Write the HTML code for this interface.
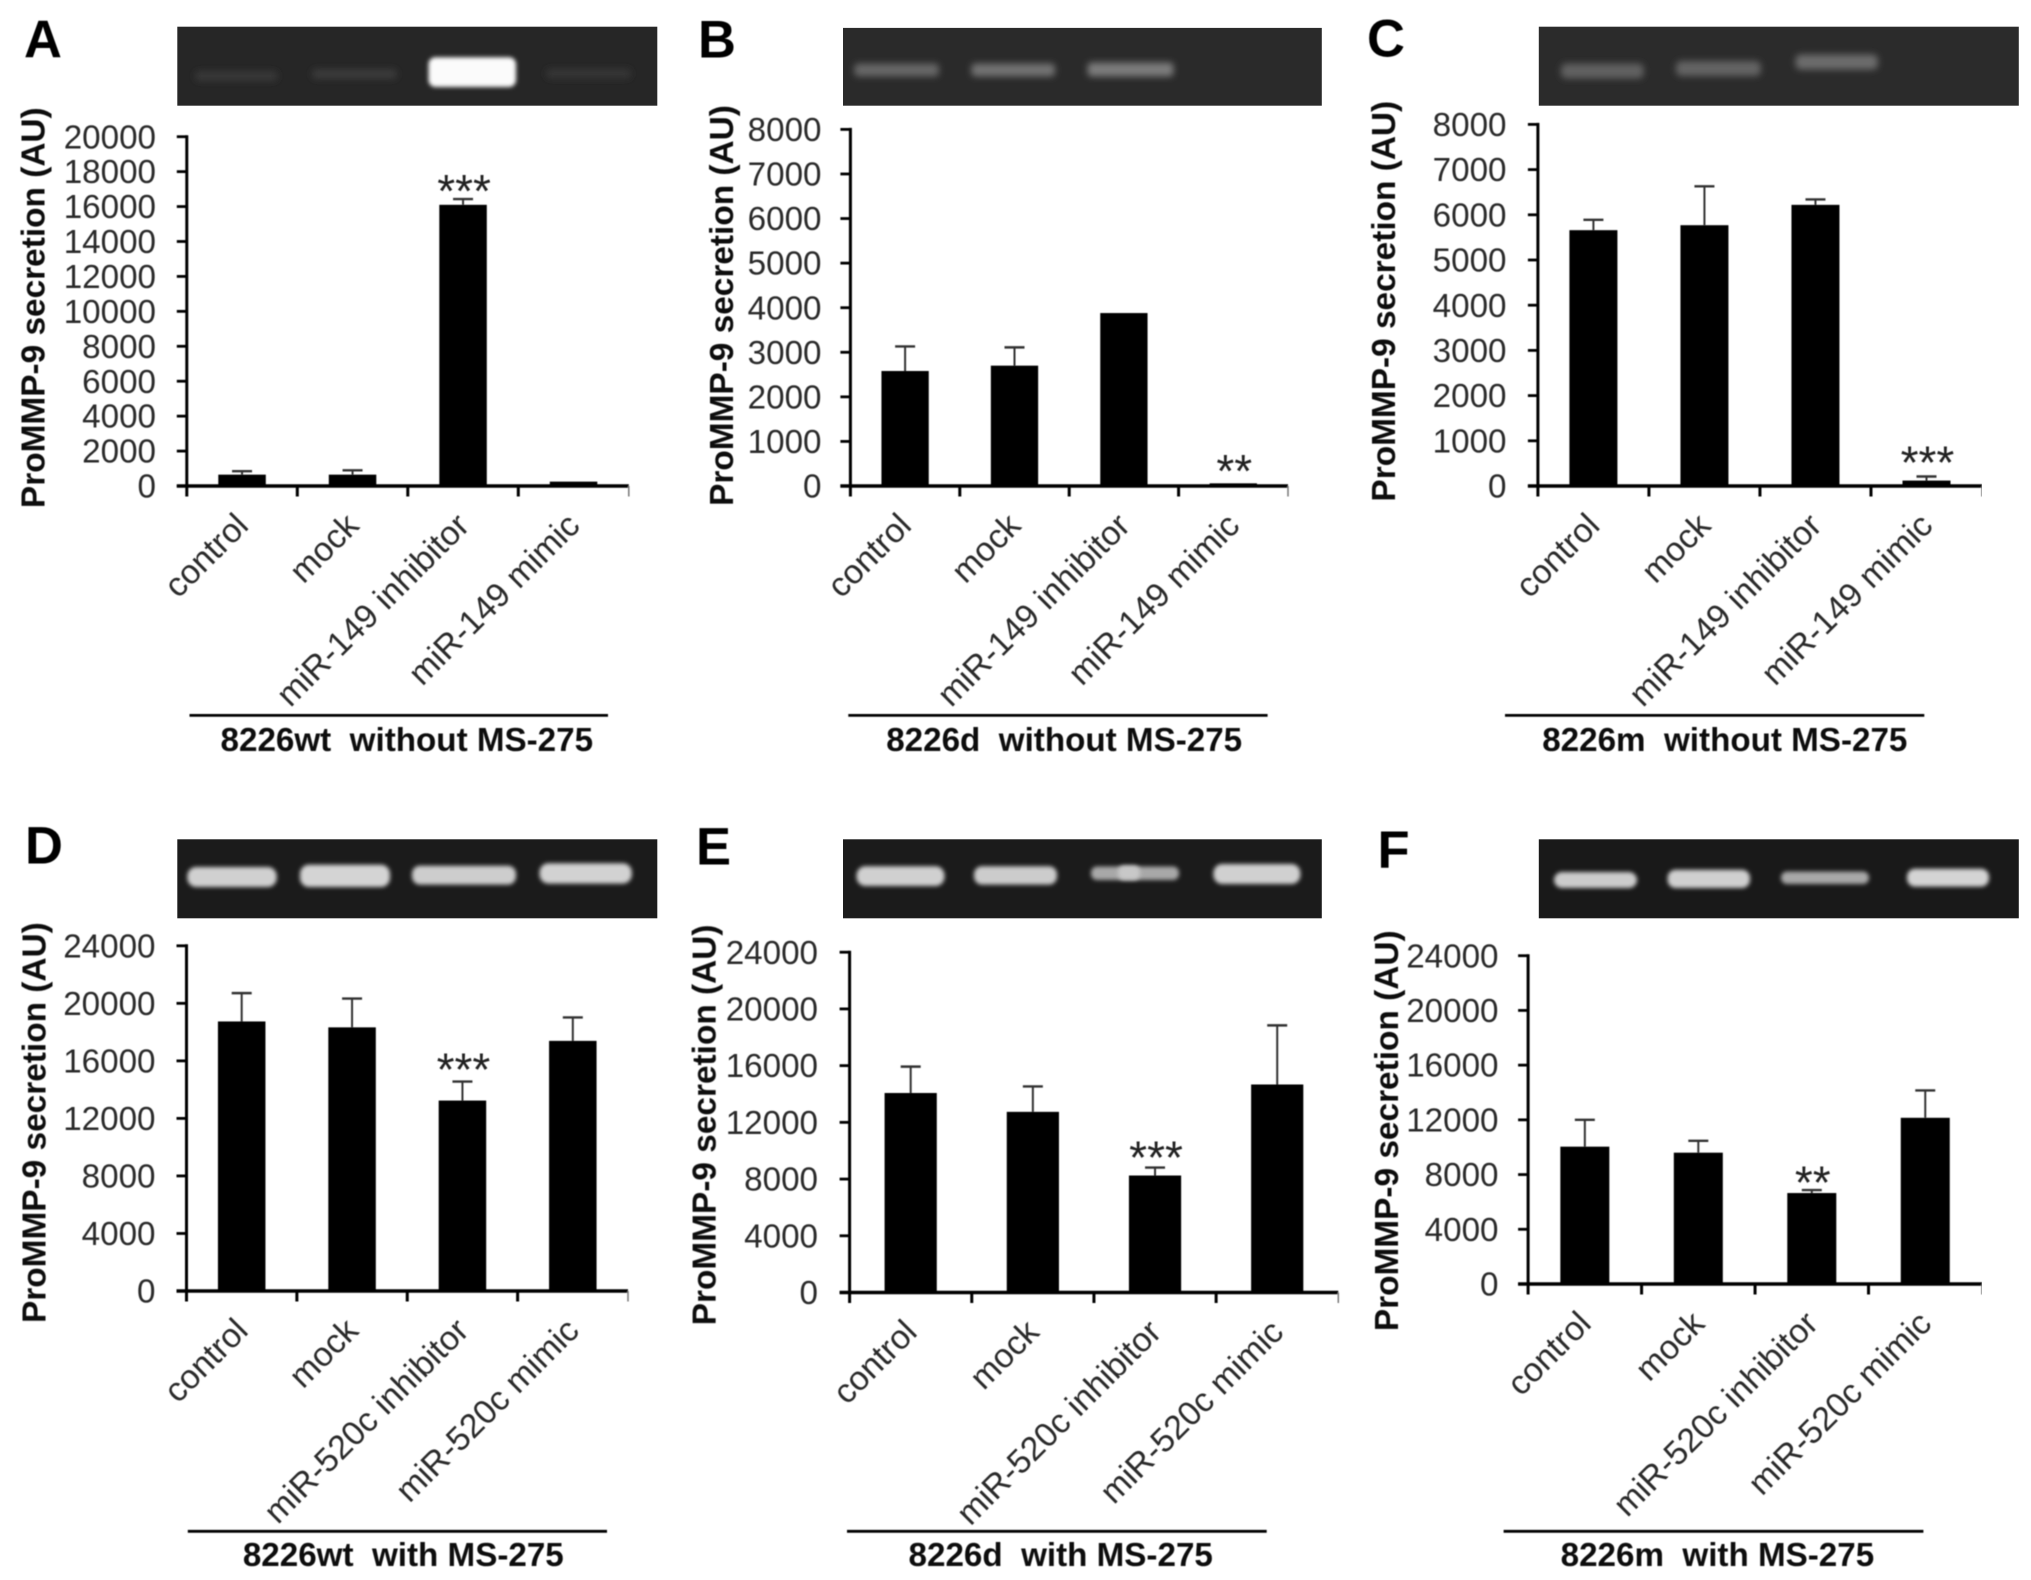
<!DOCTYPE html>
<html lang="en">
<head>
<meta charset="utf-8">
<title>ProMMP-9 secretion panels</title>
<style>
html,body{margin:0;padding:0;background:#fff;width:2031px;height:1580px;overflow:hidden}
svg{display:block;font-family:"Liberation Sans",sans-serif}
.letter{font-size:52.5px;font-weight:700;fill:#000}
.ytitle{font-size:33.4px;font-weight:700;fill:#111;text-anchor:middle}
.caption{font-size:33.2px;font-weight:700;fill:#111;text-anchor:middle;white-space:pre}
.tick{font-size:33.2px;fill:#2a2a2a;text-anchor:end}
.xlabel{font-size:33.8px;fill:#2a2a2a;text-anchor:end}
.stars{font-size:46px;fill:#222;text-anchor:middle}
</style>
</head>
<body>
<svg id="figure" xmlns="http://www.w3.org/2000/svg" width="2031" height="1580" viewBox="0 0 2031 1580">
<defs>
<filter id="bandSoft" x="-20%" y="-60%" width="140%" height="220%"><feGaussianBlur stdDeviation="2.2"/></filter>
<filter id="bandFaint" x="-20%" y="-80%" width="140%" height="260%"><feGaussianBlur stdDeviation="3.4"/></filter>
<filter id="soften" x="0" y="0" width="100%" height="100%"><feGaussianBlur stdDeviation="0.65"/></filter>
</defs>
<rect width="2031" height="1580" fill="#fff"/>

<g>
<rect x="177.3" y="26.7" width="480" height="79" fill="#262626"/>
<rect x="195" y="71" width="82.5" height="10" rx="4" fill="#383838" filter="url(#bandFaint)"/>
<rect x="312" y="69" width="85" height="10" rx="4" fill="#3a3a3a" filter="url(#bandFaint)"/>
<rect x="428.5" y="57.2" width="87.5" height="29.8" rx="7" fill="#fbfbfb" filter="url(#bandSoft)"/>
<rect x="546" y="68.6" width="85" height="10" rx="4" fill="#353535" filter="url(#bandFaint)"/>
</g>
<g>
<rect x="843" y="27.9" width="478.8" height="77.8" fill="#2a2a2a"/>
<rect x="854.3" y="63.5" width="84.6" height="13" rx="4" fill="#666666" filter="url(#bandFaint)"/>
<rect x="971.4" y="63.5" width="83.6" height="13" rx="4" fill="#727272" filter="url(#bandFaint)"/>
<rect x="1087.6" y="62.5" width="85.9" height="14" rx="4" fill="#7c7c7c" filter="url(#bandFaint)"/>
</g>
<g>
<rect x="1538.8" y="26.7" width="480" height="79" fill="#2b2b2b"/>
<rect x="1561" y="63.5" width="82.7" height="15" rx="5" fill="#606060" filter="url(#bandFaint)"/>
<rect x="1676" y="61" width="84.8" height="15" rx="5" fill="#646464" filter="url(#bandFaint)"/>
<rect x="1795.5" y="54.5" width="82.4" height="15" rx="5" fill="#6c6c6c" filter="url(#bandFaint)"/>
</g>
<g>
<rect x="177.3" y="839.3" width="480" height="79" fill="#1b1b1b"/>
<rect x="187.3" y="867" width="89.4" height="20" rx="9" fill="#d0d0d0" filter="url(#bandSoft)"/>
<rect x="300" y="864.7" width="90" height="22.3" rx="9" fill="#d4d4d4" filter="url(#bandSoft)"/>
<rect x="412" y="865.7" width="104" height="18.9" rx="8" fill="#cdcdcd" filter="url(#bandSoft)"/>
<rect x="539.5" y="863.2" width="92.3" height="20.4" rx="9" fill="#d2d2d2" filter="url(#bandSoft)"/>
</g>
<g>
<rect x="843" y="839.3" width="478.8" height="79" fill="#1b1b1b"/>
<rect x="856.5" y="866.2" width="88" height="19.8" rx="9" fill="#d0d0d0" filter="url(#bandSoft)"/>
<rect x="974" y="866.2" width="83" height="18.4" rx="8" fill="#cccccc" filter="url(#bandSoft)"/>
<rect x="1091" y="866.5" width="88" height="13.5" rx="6" fill="#a8a8a8" filter="url(#bandSoft)"/>
<rect x="1118" y="865.5" width="22" height="14.5" rx="6" fill="#c8c8c8" filter="url(#bandSoft)"/>
<rect x="1213.4" y="864" width="87" height="20" rx="9" fill="#d0d0d0" filter="url(#bandSoft)"/>
</g>
<g>
<rect x="1538.8" y="839.3" width="480" height="79" fill="#191919"/>
<rect x="1554" y="872" width="83" height="16" rx="8" fill="#cccccc" filter="url(#bandSoft)"/>
<rect x="1667.6" y="869.7" width="82.4" height="18.3" rx="8" fill="#d0d0d0" filter="url(#bandSoft)"/>
<rect x="1781" y="871.5" width="88" height="12.5" rx="6" fill="#a8a8a8" filter="url(#bandSoft)"/>
<rect x="1907" y="868.7" width="82" height="17.9" rx="8" fill="#d4d4d4" filter="url(#bandSoft)"/>
</g>

<g id="art" filter="url(#soften)">
<text class="letter" x="24" y="57.3">A</text>
<text class="letter" x="698" y="57.3">B</text>
<text class="letter" x="1367" y="56.3">C</text>
<text class="letter" x="25" y="863.7">D</text>
<text class="letter" x="696" y="864.7">E</text>
<text class="letter" x="1377.5" y="868.2">F</text>

<text class="ytitle" transform="translate(44.7,307.7) rotate(-90)">ProMMP-9 secretion (AU)</text>
<text class="ytitle" transform="translate(732.9,305.5) rotate(-90)">ProMMP-9 secretion (AU)</text>
<text class="ytitle" transform="translate(1395.2,301.2) rotate(-90)">ProMMP-9 secretion (AU)</text>
<text class="ytitle" transform="translate(45.5,1122.6) rotate(-90)">ProMMP-9 secretion (AU)</text>
<text class="ytitle" transform="translate(715.6,1124.9) rotate(-90)">ProMMP-9 secretion (AU)</text>
<text class="ytitle" transform="translate(1397.8,1130.8) rotate(-90)">ProMMP-9 secretion (AU)</text>

<line x1="189.5" x2="608" y1="715.4" y2="715.4" stroke="#000" stroke-width="2.8"/>
<line x1="848.3" x2="1267.6" y1="715.4" y2="715.4" stroke="#000" stroke-width="2.8"/>
<line x1="1505" x2="1924.3" y1="715.4" y2="715.4" stroke="#000" stroke-width="2.8"/>
<line x1="187.8" x2="607" y1="1531.3" y2="1531.3" stroke="#000" stroke-width="2.8"/>
<line x1="847" x2="1266.7" y1="1531.3" y2="1531.3" stroke="#000" stroke-width="2.8"/>
<line x1="1503.6" x2="1923.4" y1="1531.3" y2="1531.3" stroke="#000" stroke-width="2.8"/>

<text class="caption" xml:space="preserve" x="406.8" y="751.2">8226wt  without MS-275</text>
<text class="caption" xml:space="preserve" x="1064.2" y="751.2">8226d  without MS-275</text>
<text class="caption" xml:space="preserve" x="1724.8" y="751.2">8226m  without MS-275</text>
<text class="caption" xml:space="preserve" x="403.3" y="1566">8226wt  with MS-275</text>
<text class="caption" xml:space="preserve" x="1060.7" y="1566">8226d  with MS-275</text>
<text class="caption" xml:space="preserve" x="1717.4" y="1566">8226m  with MS-275</text>
</g>
</svg>

<script>
const categories149 = ["control", "mock", "miR-149 inhibitor", "miR-149 mimic"];
const categories520 = ["control", "mock", "miR-520c inhibitor", "miR-520c mimic"];

const ticksA = [0, 2000, 4000, 6000, 8000, 10000, 12000, 14000, 16000, 18000, 20000];
const ticksBC = [0, 1000, 2000, 3000, 4000, 5000, 6000, 7000, 8000];
const ticksDEF = [0, 4000, 8000, 12000, 16000, 20000, 24000];

const valuesA = [650, 650, 16100, 250];
const errorsA = [200, 250, 330, 0];
const starsA = ["", "", "***", ""];

const valuesB = [2580, 2700, 3880, 60];
const errorsB = [550, 410, 0, 0];
const starsB = ["", "", "", "**"];

const valuesC = [5660, 5770, 6220, 120];
const errorsC = [230, 860, 120, 90];
const starsC = ["", "", "", "***"];

const valuesD = [18740, 18330, 13240, 17390];
const errorsD = [1970, 2000, 1320, 1630];
const starsD = ["", "", "***", ""];

const valuesE = [14070, 12740, 8250, 14670];
const errorsE = [1860, 1790, 560, 4170];
const starsE = ["", "", "***", ""];

const valuesF = [10040, 9600, 6650, 12150];
const errorsF = [1960, 870, 220, 2000];
const starsF = ["", "", "**", ""];

const SVGNS = "http://www.w3.org/2000/svg";
const art = document.getElementById("art");

const panels = [
  {id:"a", left:186.8,  right:628.8,  top:136.7, base:486,    labelRight:156,    barW:47.5, starGap:19,   cats:categories149, ticks:ticksA,   vals:valuesA, errs:errorsA, stars:starsA},
  {id:"b", left:850.4,  right:1288,   top:129.4, base:486,    labelRight:821.5,  barW:47.3, starGap:23,   cats:categories149, ticks:ticksBC,  vals:valuesB, errs:errorsB, stars:starsB},
  {id:"c", left:1537.9, right:1982,   top:124.4, base:486,    labelRight:1506.5, barW:48,   starGap:24.5, cats:categories149, ticks:ticksBC,  vals:valuesC, errs:errorsC, stars:starsC},
  {id:"d", left:186.5,  right:628,    top:945.8, base:1291,   labelRight:155.5,  barW:47.5, starGap:23,   cats:categories520, ticks:ticksDEF, vals:valuesD, errs:errorsD, stars:starsD},
  {id:"e", left:849.6,  right:1338.3, top:952.2, base:1292.5, labelRight:818,    barW:52.2, starGap:20.6, cats:categories520, ticks:ticksDEF, vals:valuesE, errs:errorsE, stars:starsE},
  {id:"f", left:1528.1, right:1982,   top:955.7, base:1284,   labelRight:1498.5, barW:49,   starGap:18,   cats:categories520, ticks:ticksDEF, vals:valuesF, errs:errorsF, stars:starsF}
];

function yScale(p, v) {
  const max = p.ticks[p.ticks.length - 1];
  return p.base - (v / max) * (p.base - p.top);
}
function xEdge(p, i) {
  return p.left + i * (p.right - p.left) / p.cats.length;
}
function xCenter(p, i) {
  return xEdge(p, i + 0.5);
}
function shape(tag, attrs, parent) {
  const node = document.createElementNS(SVGNS, tag);
  for (const k in attrs) node.setAttribute(k, attrs[k]);
  parent.appendChild(node);
  return node;
}

panels.forEach(function (p) {
  const g = shape("g", {}, art);
  
  

  p.vals.forEach(function (v, i) {
    const cx = xCenter(p, i);
    const topValue = v + p.errs[i];
    if (p.errs[i] > 0) {
      const stem = shape("line", {x1:cx, x2:cx, y1:yScale(p, v), y2:yScale(p, topValue), stroke:"#333", "stroke-width":2}, g);
      
      
      const cap = shape("line", {x1:cx - 10, x2:cx + 10, y1:yScale(p, topValue), y2:yScale(p, topValue), stroke:"#333", "stroke-width":2.4}, g);
      
      
    }
    const bar = shape("rect", {x:cx - p.barW / 2, y:yScale(p, v), width:p.barW, height:p.base - yScale(p, v), fill:"#000"}, g);
    
    

    if (p.stars[i]) {
      const star = shape("text", {"class":"stars", x:cx + 1, y:yScale(p, topValue) - p.starGap + 26.7}, g);
      star.textContent = p.stars[i];
      
      
    }

    const label = shape("text", {"class":"xlabel", transform:"translate(" + (cx + 8) + "," + (p.base + 41.5) + ") rotate(-45)"}, g);
    label.textContent = p.cats[i];
    
    
  });

  const yAxis = shape("line", {x1:p.left, x2:p.left, y1:p.top - 1.5, y2:p.base + 1.5, stroke:"#000", "stroke-width":3}, g);
  
  
  const xAxis = shape("line", {x1:p.left - 10, x2:p.right, y1:p.base, y2:p.base, stroke:"#000", "stroke-width":3.4}, g);
  
  

  p.ticks.forEach(function (t, i) {
    const y = yScale(p, t);
    const mark = shape("line", {x1:p.left - 10, x2:p.left, y1:y, y2:y, stroke:"#000", "stroke-width":2.8}, g);
    
    
    const txt = shape("text", {"class":"tick", x:p.labelRight, y:y + 11.6}, g);
    txt.textContent = String(t);
    
    
  });

  for (let i = 0; i <= p.cats.length; i++) {
    const last = i === p.cats.length;
    const mark = shape("line", {x1:xEdge(p, i), x2:xEdge(p, i), y1:p.base, y2:p.base + 10.5, stroke:last ? "#777" : "#000", "stroke-width":last ? 1.5 : 3}, g);
    
    
  }
});
</script>
</body>
</html>
